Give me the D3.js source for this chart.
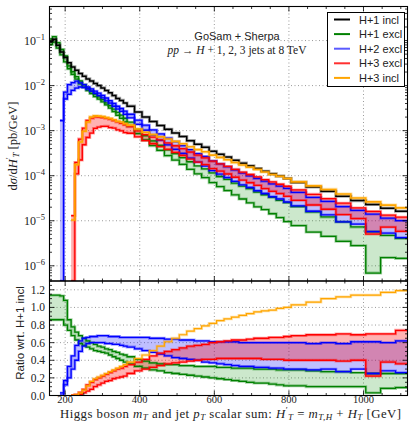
<!DOCTYPE html>
<html>
<head>
<meta charset="utf-8">
<script src="https://cdn.jsdelivr.net/npm/d3@7"></script>
<style>
  body { margin: 0; background: #fff; }
  svg { display: block; }
</style>
</head>
<body>
<svg id="chart" width="409" height="422"></svg>
<script>
// bin edges in GeV (10 GeV, then 20 GeV, then 40 GeV bins)
const binEdges = [156,166,176,186,196,206,216,226,236,246,256,266,276,286,296,306,316,326,336,346,356,366,
  386,406,426,446,466,486,506,526,546,566,586,606,626,646,666,686,706,726,746,766,786,806,
  846,886,926,966,1006,1046,1086,1126];

// H+1 incl, pb/GeV
const h1Incl = [9.5e-2,1.07e-1,7.9e-2,5.6e-2,4.2e-2,3.2e-2,2.6e-2,2.2e-2,1.86e-2,1.62e-2,1.41e-2,1.26e-2,1.12e-2,1.0e-2,8.9e-3,7.8e-3,6.9e-3,6.0e-3,5.2e-3,4.7e-3,4.1e-3,
  3.5e-3,2.6e-3,2.0e-3,1.6e-3,1.3e-3,1.07e-3,8.9e-4,7.4e-4,6.0e-4,5.0e-4,4.3e-4,3.5e-4,3.0e-4,2.6e-4,2.2e-4,1.9e-4,1.66e-4,1.45e-4,1.26e-4,1.10e-4,9.8e-5,8.7e-5,
  7.1e-5,5.6e-5,4.5e-5,3.5e-5,2.8e-5,2.3e-5,1.9e-5,1.62e-5];

// ratios wrt. H+1 incl (scale band edges)
const h1ExclHi = [1.14,1.14,1.14,1.13,1.08,0.86,0.78,0.72,0.68,0.65,0.62,0.60,0.58,0.56,0.55,0.53,0.52,0.50,0.49,0.47,0.46,
  0.44,0.41,0.39,0.37,0.36,0.35,0.35,0.34,0.34,0.33,0.33,0.33,0.32,0.32,0.31,0.31,0.31,0.30,0.30,0.30,0.29,0.29,
  0.29,0.28,0.27,0.27,0.26,0.25,0.25,0.25];
const h1ExclLo = [0.86,0.86,0.86,0.86,0.80,0.74,0.68,0.63,0.59,0.57,0.55,0.53,0.51,0.50,0.49,0.48,0.46,0.44,0.42,0.40,0.38,
  0.36,0.33,0.31,0.29,0.28,0.26,0.25,0.24,0.23,0.22,0.21,0.20,0.19,0.18,0.17,0.16,0.15,0.14,0.14,0.13,0.12,0.11,
  0.11,0.10,0.10,0.10,0.10,0.03,0.08,0.09];

const h2ExclHi = [null,null,null,0.03,0.17,0.33,0.45,0.57,0.62,0.65,0.66,0.67,0.67,0.68,0.68,0.68,0.67,0.67,0.67,0.66,0.66,
  0.66,0.66,0.66,0.65,0.65,0.64,0.64,0.63,0.63,0.62,0.62,0.61,0.61,0.61,0.61,0.60,0.60,0.60,0.60,0.60,0.60,0.60,
  0.60,0.59,0.60,0.59,0.61,0.61,0.60,0.62];
const h2ExclLo = [null,null,null,0.0,0.12,0.20,0.30,0.40,0.50,0.56,0.59,0.60,0.60,0.60,0.60,0.59,0.59,0.58,0.58,0.57,0.56,
  0.55,0.53,0.51,0.49,0.47,0.45,0.43,0.42,0.41,0.40,0.38,0.37,0.36,0.35,0.34,0.33,0.33,0.32,0.32,0.31,0.31,0.30,
  0.30,0.29,0.30,0.27,0.30,0.25,0.28,0.26];

const h3ExclHi = [null,null,null,null,null,null,0.0005,0.009,0.035,0.07,0.12,0.15,0.18,0.20,0.22,0.24,0.26,0.28,0.30,0.31,0.33,
  0.35,0.38,0.41,0.45,0.48,0.50,0.52,0.54,0.56,0.57,0.58,0.60,0.61,0.62,0.63,0.63,0.64,0.65,0.65,0.66,0.66,0.67,
  0.68,0.69,0.69,0.70,0.69,0.70,0.70,0.74];
const h3ExclLo = [null,null,null,null,null,null,0.0,0.005,0.012,0.03,0.05,0.07,0.10,0.12,0.14,0.16,0.17,0.19,0.20,0.21,0.22,
  0.25,0.28,0.30,0.32,0.34,0.36,0.37,0.38,0.39,0.40,0.41,0.41,0.42,0.42,0.42,0.42,0.42,0.42,0.41,0.41,0.41,0.40,
  0.40,0.40,0.40,0.39,0.40,0.22,0.38,0.36];

const h3Incl = [null,null,null,null,null,null,0.0004,0.008,0.03,0.06,0.11,0.16,0.19,0.21,0.23,0.25,0.27,0.29,0.31,0.33,0.35,
  0.38,0.42,0.46,0.51,0.56,0.61,0.65,0.69,0.73,0.76,0.79,0.82,0.85,0.87,0.89,0.91,0.93,0.95,0.96,0.97,0.99,1.00,
  1.03,1.06,1.10,1.12,1.14,1.14,1.17,1.19];

const xTicks = [200, 400, 600, 800, 1000];
const mainTicks = [1e-6, 1e-5, 1e-4, 1e-3, 1e-2, 1e-1];
const mainTickLabels = ["\u22126", "\u22125", "\u22124", "\u22123", "\u22122", "\u22121"];
const ratioTicks = [0.0, 0.2, 0.4, 0.6, 0.8, 1.0, 1.2];
const legendLabels = ["H+1 incl", "H+1 excl", "H+2 excl", "H+3 excl", "H+3 incl"];
const legendColors = ["#000000", "#008000", "#5a5aff", "#ff3030", "#ffa500"];

const svg = d3.select('#chart');
const left = 49.5, right = 407.5, mainTop = 6.5, mainBottom = 281, ratioBottom = 395.5;

const x = d3.scaleLinear().domain([158, 1118]).range([left, right]);
const yMain = d3.scaleLog().domain([4.6e-7, 0.57]).range([mainBottom, mainTop]).clamp(true);
const yRatio = d3.scaleLinear().domain([0, 1.3]).range([ratioBottom, mainBottom]).clamp(true);

const serif = "'Liberation Serif', 'DejaVu Serif', serif";
const sans = "'Liberation Sans', 'DejaVu Sans', sans-serif";

// clip paths
const defs = svg.append('defs');
defs.append('clipPath').attr('id', 'clipMain').append('rect')
  .attr('x', left).attr('y', mainTop).attr('width', right - left).attr('height', mainBottom - mainTop);
defs.append('clipPath').attr('id', 'clipRatio').append('rect')
  .attr('x', left).attr('y', mainBottom).attr('width', right - left).attr('height', ratioBottom - mainBottom);

// grid
function grid(g, yVals, yScale, top, bottom) {
  xTicks.forEach(t => {
    g.append('line').attr('x1', x(t)).attr('x2', x(t)).attr('y1', top).attr('y2', bottom)
      .attr('stroke', '#9a9a9a').attr('stroke-dasharray', '1,2.5');
  });
  yVals.forEach(v => {
    g.append('line').attr('x1', left).attr('x2', right).attr('y1', yScale(v)).attr('y2', yScale(v))
      .attr('stroke', '#9a9a9a').attr('stroke-dasharray', '1,2.5');
  });
}
grid(svg.append('g'), mainTicks, yMain, mainTop, mainBottom);
grid(svg.append('g'), ratioTicks.slice(1), yRatio, mainBottom, ratioBottom);

// step helpers
function stepPoints(lo, hi) {
  const pts = lo.map((v, i) => ({ x: binEdges[i], lo: v, hi: hi ? hi[i] : v }));
  const n = lo.length - 1;
  pts.push({ x: binEdges[n + 1], lo: lo[n], hi: hi ? hi[n] : lo[n] });
  return pts;
}
function times(r) { return r.map((v, i) => v == null ? null : v * h1Incl[i]); }

function drawPanel(g, yScale, series) {
  const area = d3.area().curve(d3.curveStepAfter)
    .defined(d => d.hi != null)
    .x(d => x(d.x)).y0(d => yScale(d.lo)).y1(d => yScale(d.hi));
  const line = key => d3.line().curve(d3.curveStepAfter)
    .defined(d => d[key] != null)
    .x(d => x(d.x)).y(d => yScale(d[key]));

  series.filter(s => s.fill).forEach(s => {
    g.append('path').datum(stepPoints(s.lo, s.hi))
      .attr('d', area).attr('fill', s.fill).attr('stroke', 'none');
  });
  series.forEach(s => {
    const pts = stepPoints(s.lo, s.hi);
    const keys = s.hi ? ['hi', 'lo'] : ['lo'];
    keys.forEach(k => {
      g.append('path').datum(pts).attr('d', line(k)).attr('fill', 'none')
        .attr('stroke', s.color).attr('stroke-opacity', 0.35).attr('stroke-width', s.width + 1.6);
      g.append('path').datum(pts).attr('d', line(k)).attr('fill', 'none')
        .attr('stroke', s.color).attr('stroke-width', s.width);
    });
  });
}

const gMain = svg.append('g').attr('clip-path', 'url(#clipMain)');
drawPanel(gMain, yMain, [
  { lo: times(h1ExclLo), hi: times(h1ExclHi), color: '#008000', fill: 'rgba(0,140,0,0.2)', width: 1.3 },
  { lo: times(h2ExclLo), hi: times(h2ExclHi), color: '#0000ff', fill: 'rgba(0,0,255,0.25)', width: 1.3 },
  { lo: times(h3ExclLo), hi: times(h3ExclHi), color: '#ff0000', fill: 'rgba(255,0,0,0.3)', width: 1.3 },
  { lo: h1Incl, color: '#000000', width: 1.5 },
  { lo: times(h3Incl), color: '#ffa500', width: 1.6 }
]);

const gRatio = svg.append('g').attr('clip-path', 'url(#clipRatio)');
drawPanel(gRatio, yRatio, [
  { lo: h1ExclLo, hi: h1ExclHi, color: '#008000', fill: 'rgba(0,140,0,0.2)', width: 1.3 },
  { lo: h2ExclLo, hi: h2ExclHi, color: '#0000ff', fill: 'rgba(0,0,255,0.25)', width: 1.3 },
  { lo: h3ExclLo, hi: h3ExclHi, color: '#ff0000', fill: 'rgba(255,0,0,0.3)', width: 1.3 },
  { lo: h3Incl, color: '#ffa500', width: 1.2 }
]);

// frames and ticks
const axes = svg.append('g').attr('stroke', '#000');
[[mainTop, mainBottom], [mainBottom, ratioBottom]].forEach(([t, b]) => {
  axes.append('rect').attr('x', left).attr('y', t).attr('width', right - left).attr('height', b - t)
    .attr('fill', 'none').attr('stroke-width', 1.1);
  d3.range(200, 1101, 50).forEach(v => {
    const len = v % 200 === 0 ? 5 : 2.5;
    axes.append('line').attr('x1', x(v)).attr('x2', x(v)).attr('y1', t).attr('y2', t + len).attr('stroke-width', 0.8);
    axes.append('line').attr('x1', x(v)).attr('x2', x(v)).attr('y1', b).attr('y2', b - len).attr('stroke-width', 0.8);
  });
});
function yTick(yPos, len) {
  axes.append('line').attr('x1', left).attr('x2', left + len).attr('y1', yPos).attr('y2', yPos).attr('stroke-width', 0.8);
  axes.append('line').attr('x1', right).attr('x2', right - len).attr('y1', yPos).attr('y2', yPos).attr('stroke-width', 0.8);
}
d3.range(-7, 0).forEach(e => {
  d3.range(1, 10).forEach(m => {
    const v = m * Math.pow(10, e);
    if (v < yMain.domain()[0] || v > yMain.domain()[1]) return;
    yTick(yMain(v), m === 1 ? 5 : 2.5);
  });
});
d3.range(0, 1.31, 0.05).forEach(v => {
  const major = Math.abs(v * 5 - Math.round(v * 5)) < 1e-6;
  yTick(yRatio(v), major ? 5 : 2.5);
});

// tick labels
const labels = svg.append('g').attr('font-family', serif).attr('fill', '#222');
mainTicks.forEach((v, i) => {
  const t = labels.append('text').attr('x', 45).attr('y', yMain(v) + 4).attr('text-anchor', 'end').attr('font-size', 12);
  t.append('tspan').text('10');
  t.append('tspan').text(mainTickLabels[i]).attr('font-size', 8.5).attr('dy', -5);
});
ratioTicks.forEach(v => {
  labels.append('text').attr('x', 45).attr('y', yRatio(v) + 4).attr('text-anchor', 'end')
    .attr('font-size', 11.5).text(v.toFixed(1));
});
xTicks.forEach(v => {
  labels.append('text').attr('x', x(v)).attr('y', 403).attr('text-anchor', 'middle')
    .attr('font-size', 10.5).text(v);
});

// rich text helper: kinds contain 'i' (italic), 'sub', 'sup'
function rich(sel, parts, size) {
  let shift = 0;
  parts.forEach(([t, kind]) => {
    kind = kind || '';
    const target = kind.includes('sub') ? size * 0.15 : kind.includes('sup') ? -size * 0.38 : 0;
    const ts = sel.append('tspan').text(t).attr('dy', target - shift);
    if (kind.includes('i')) ts.attr('font-style', 'italic');
    if (target !== 0) ts.attr('font-size', size * 0.7);
    shift = target;
  });
}

// axis titles
const xTitle = svg.append('text').attr('x', 60).attr('y', 417.8).attr('font-family', serif)
  .attr('font-size', 12.8).attr('fill', '#222')
  .attr('textLength', 341).attr('lengthAdjust', 'spacing');
rich(xTitle, [['Higgs boson '], ['m', 'i'], ['T', 'isub'], [' and jet '], ['p', 'i'], ['T', 'isub'],
  [' scalar sum:  '], ['H', 'i'], ['\u2032', 'sup'], ['T', 'isub'], [' = '], ['m', 'i'], ['T,H', 'isub'],
  [' + '], ['H', 'i'], ['T', 'isub'], [' [GeV]']], 12.8);

const yTitle = svg.append('text').attr('transform', 'translate(17,146) rotate(-90)')
  .attr('text-anchor', 'middle').attr('font-family', serif).attr('font-size', 12.5).attr('fill', '#222');
rich(yTitle, [['d'], ['\u03c3', 'i'], ['/d'], ['H', 'i'], ['\u2032', 'sup'], ['T', 'isub'], [' [pb/GeV]']], 12.5);

svg.append('text').attr('transform', 'translate(24,333) rotate(-90)').attr('text-anchor', 'middle')
  .attr('font-family', sans).attr('font-size', 11.5).attr('fill', '#222').text('Ratio wrt. H+1 incl');

// process label
svg.append('text').attr('x', 237).attr('y', 40).attr('text-anchor', 'middle')
  .attr('font-family', sans).attr('font-size', 11).attr('fill', '#222').text('GoSam + Sherpa');
const proc = svg.append('text').attr('x', 237).attr('y', 54).attr('text-anchor', 'middle')
  .attr('font-family', serif).attr('font-size', 11.5).attr('fill', '#222');
rich(proc, [['pp', 'i'], [' \u2192 '], ['H', 'i'], [' + 1, 2, 3 jets at 8 TeV']], 11.5);

// legend
const legend = svg.append('g');
legend.append('rect').attr('x', 327.5).attr('y', 12.5).attr('width', 77).attr('height', 74)
  .attr('fill', '#fff').attr('stroke', '#000').attr('stroke-width', 1);
legendLabels.forEach((name, i) => {
  const yy = 19.5 + i * 14.6;
  legend.append('line').attr('x1', 334).attr('x2', 350).attr('y1', yy).attr('y2', yy)
    .attr('stroke', legendColors[i]).attr('stroke-width', 2);
  legend.append('text').attr('x', 359).attr('y', yy + 4).attr('font-family', sans)
    .attr('font-size', 11).attr('fill', '#222').text(name);
});
</script>
</body>
</html>
